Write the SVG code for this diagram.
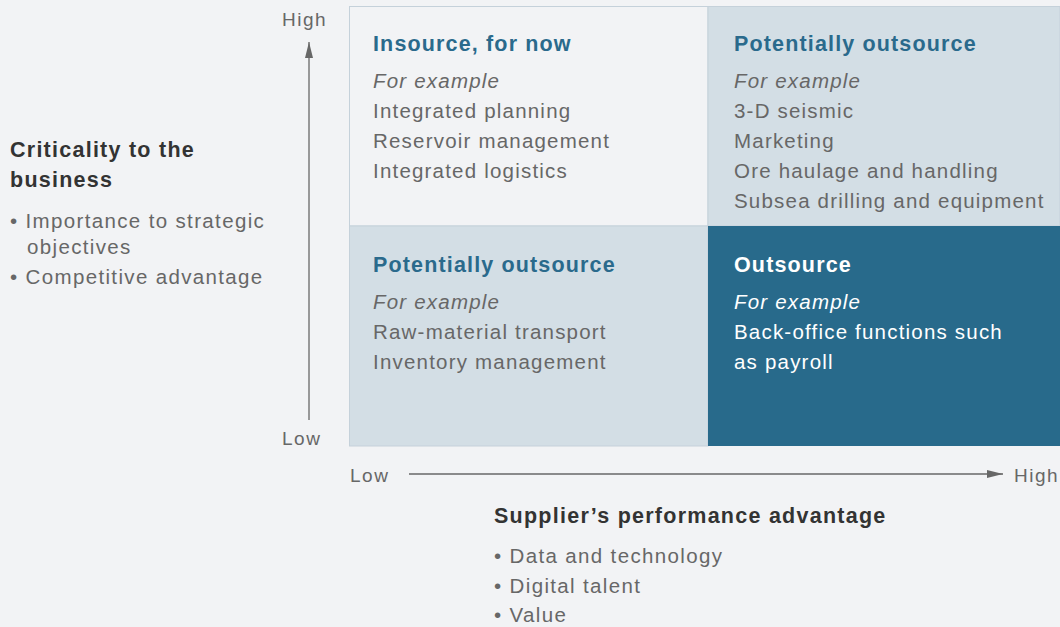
<svg xmlns="http://www.w3.org/2000/svg" width="1060" height="627" viewBox="0 0 1060 627">
<defs>
<style>
text{font-family:"Liberation Sans",Arial,sans-serif;}
.t{font-size:21.5px;font-weight:bold;fill:#2a6a8c;letter-spacing:1.15px;}
.tw{font-size:21.5px;font-weight:bold;fill:#ffffff;letter-spacing:1.15px;}
.b{font-size:20.5px;fill:#676767;letter-spacing:1.2px;}
.bw{font-size:20.5px;fill:#ffffff;letter-spacing:1.2px;}
.i{font-style:italic;}
.ax{font-size:19px;fill:#676767;letter-spacing:1.5px;}
.h{font-size:21.5px;font-weight:bold;fill:#333333;letter-spacing:1.25px;}
.bl{font-size:20.5px;fill:#676767;letter-spacing:1.35px;}
</style>
<marker id="ah" viewBox="0 0 16 10" refX="16" refY="5" markerWidth="16" markerHeight="10" markerUnits="userSpaceOnUse" orient="auto">
<path d="M0,1 L16,5 L0,9 Z" fill="#676767"/>
</marker>
</defs>
<rect width="1060" height="627" fill="#f2f3f5"/>
<g id="q-insource">
<rect x="349.5" y="6.5" width="358.5" height="219.5" fill="#f2f3f5" stroke="#c5d1da" stroke-width="1"/>
<text class="t" x="373" y="51">Insource, for now</text>
<text class="b i" x="373" y="88">For example</text>
<text class="b" x="373" y="118">Integrated planning</text>
<text class="b" x="373" y="148">Reservoir management</text>
<text class="b" x="373" y="178">Integrated logistics</text>
</g>
<g id="q-potential-top">
<rect x="708" y="6.5" width="352" height="219.5" fill="#d3dee5" stroke="#c5d1da" stroke-width="1"/>
<text class="t" x="734" y="51">Potentially outsource</text>
<text class="b i" x="734" y="88">For example</text>
<text class="b" x="734" y="118">3-D seismic</text>
<text class="b" x="734" y="148">Marketing</text>
<text class="b" x="734" y="178">Ore haulage and handling</text>
<text class="b" x="734" y="208">Subsea drilling and equipment</text>
</g>
<g id="q-potential-bottom">
<rect x="349.5" y="226" width="358.5" height="220" fill="#d3dee5" stroke="#c5d1da" stroke-width="1"/>
<text class="t" x="373" y="272">Potentially outsource</text>
<text class="b i" x="373" y="309">For example</text>
<text class="b" x="373" y="339">Raw-material transport</text>
<text class="b" x="373" y="369">Inventory management</text>
</g>
<g id="q-outsource">
<rect x="708" y="226" width="352" height="220" fill="#286a8b"/>
<text class="tw" x="734" y="272">Outsource</text>
<text class="bw i" x="734" y="309">For example</text>
<text class="bw" x="734" y="339">Back-office functions such</text>
<text class="bw" x="734" y="369">as payroll</text>
</g>
<g id="connectors">
<line x1="309" y1="420" x2="309" y2="42" stroke="#676767" stroke-width="1.3" marker-end="url(#ah)"/>
<line x1="409" y1="474" x2="1003" y2="474" stroke="#676767" stroke-width="1.3" marker-end="url(#ah)"/>
</g>
<g id="axis-labels">
<text class="ax" x="282" y="26">High</text>
<text class="ax" x="282" y="445">Low</text>
<text class="ax" x="350" y="482">Low</text>
<text class="ax" x="1014" y="482">High</text>
</g>
<g id="y-axis-title">
<text class="h" x="10" y="157">Criticality to the</text>
<text class="h" x="10" y="187">business</text>
<text class="bl" x="10" y="228">• Importance to strategic</text>
<text class="bl" x="27" y="254">objectives</text>
<text class="bl" x="10" y="284">• Competitive advantage</text>
</g>
<g id="x-axis-title">
<text class="h" x="494" y="523">Supplier’s performance advantage</text>
<text class="bl" x="494" y="563">• Data and technology</text>
<text class="bl" x="494" y="593">• Digital talent</text>
<text class="bl" x="494" y="622">• Value</text>
</g>
</svg>
